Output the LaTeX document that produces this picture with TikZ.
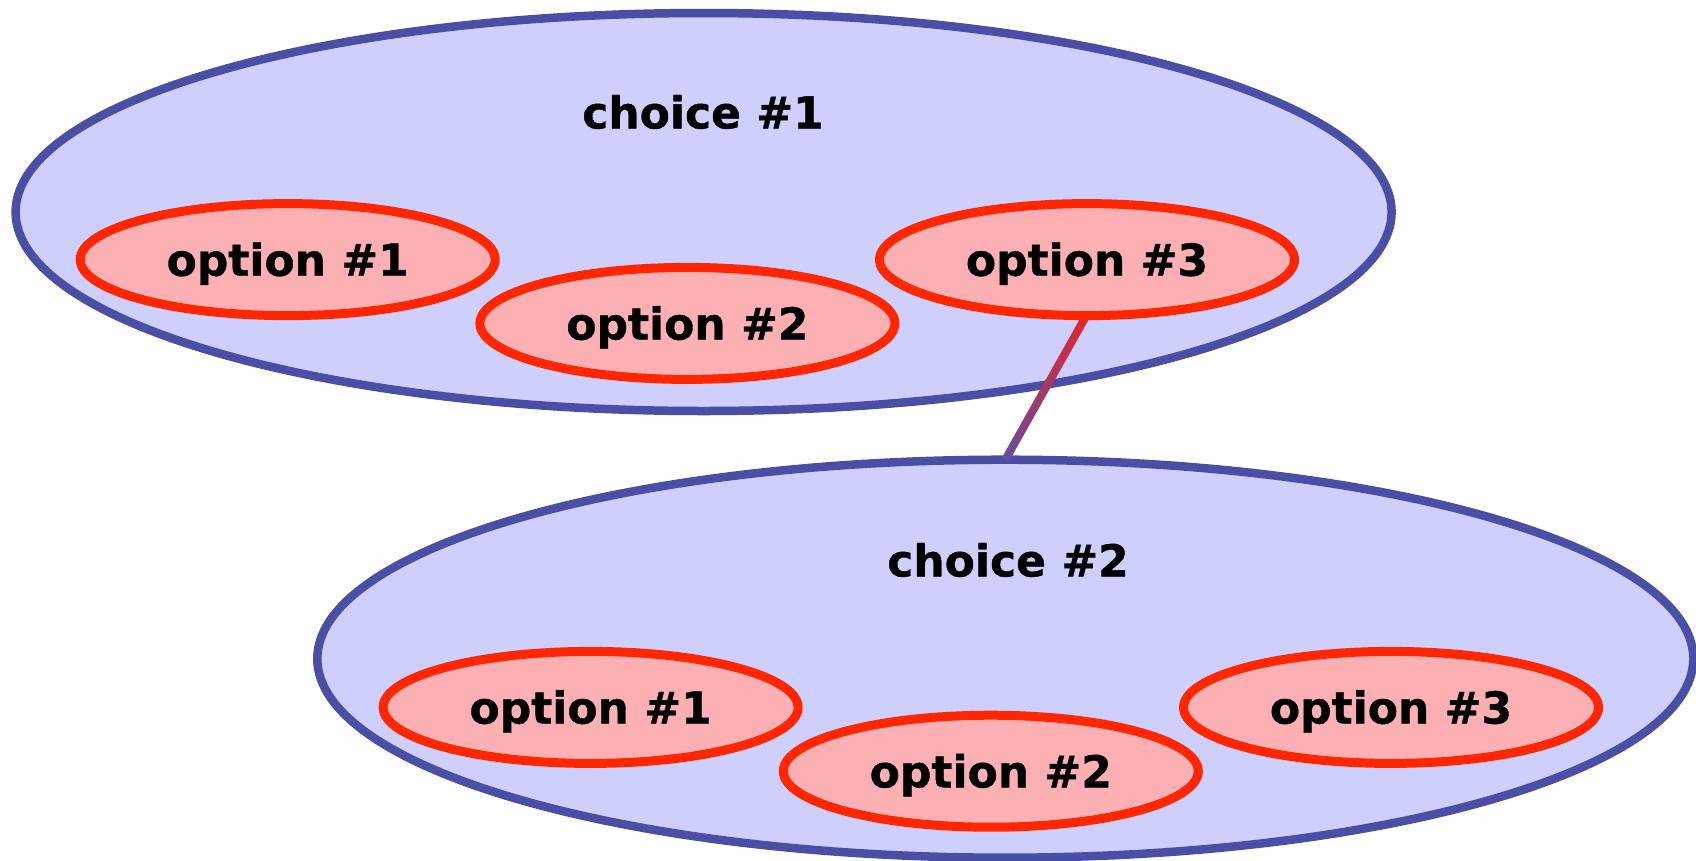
\documentclass[tikz,border=0pt]{standalone}
\usepackage{fontspec}
\setmainfont{DejaVu Sans}[BoldFeatures={FakeBold=0.8}]
\usetikzlibrary{shapes.geometric,calc}
\definecolor{bigfill}{HTML}{CFCFFD}
\definecolor{bigline}{HTML}{4A4EA5}
\definecolor{optfill}{HTML}{FDB0B4}
\definecolor{optline}{HTML}{FF2600}
\definecolor{linktop}{HTML}{E3262A}
\definecolor{linkbot}{HTML}{674C9E}
\newcommand{\opttext}[1]{\raisebox{-4pt}[\height][\depth]{#1}}
\tikzset{
  choicebox/.style={ellipse, draw=bigline, fill=bigfill, line width=8.5pt, inner sep=0pt, outer sep=0pt,
    minimum width=1376pt, minimum height=398pt},
  optbox/.style={ellipse, draw=optline, fill=optfill, line width=9pt, inner sep=0pt, outer sep=0pt,
    minimum width=415pt, minimum height=112pt, font=\fontsize{44}{50}\selectfont\bfseries},
  lbl/.style={inner sep=0pt, font=\fontsize{44}{50}\selectfont\bfseries}
}
\begin{document}
\begin{tikzpicture}[x=1pt,y=-1pt]
\useasboundingbox (0,0) rectangle (1696,860);
% choice 1
\node[choicebox] (c1) at (703.6,212) {};
\node[lbl] (c1l) at (703,112) {choice \#1};
\node[optbox] (o11) at (287.7,259.6) {\opttext{option \#1}};
\node[optbox] (o12) at (687.4,323.4) {\opttext{option \#2}};
% choice 2
\node[choicebox] (c2) at (1005.3,658.7) {};
\node[lbl] (c2l) at (1008,560) {choice \#2};
\node[optbox] (o21) at (590.6,707.4) {\opttext{option \#1}};
\node[optbox] (o22) at (990.8,771.2) {\opttext{option \#2}};
\node[optbox] (o23) at (1391,707.4) {\opttext{option \#3}};
% connector
\coordinate (ca) at (1085,318);
\path (c2.north) coordinate (cb);
\shade[top color=linktop, bottom color=linkbot]
  ($(ca)!4pt!90:(cb)$) -- ($(ca)!4pt!-90:(cb)$) --
  ($(cb)!4pt!90:(ca)$) -- ($(cb)!4pt!-90:(ca)$) -- cycle;
\node[optbox] (o13) at (1087,259.6) {\opttext{option \#3}};
\end{tikzpicture}
\end{document}
